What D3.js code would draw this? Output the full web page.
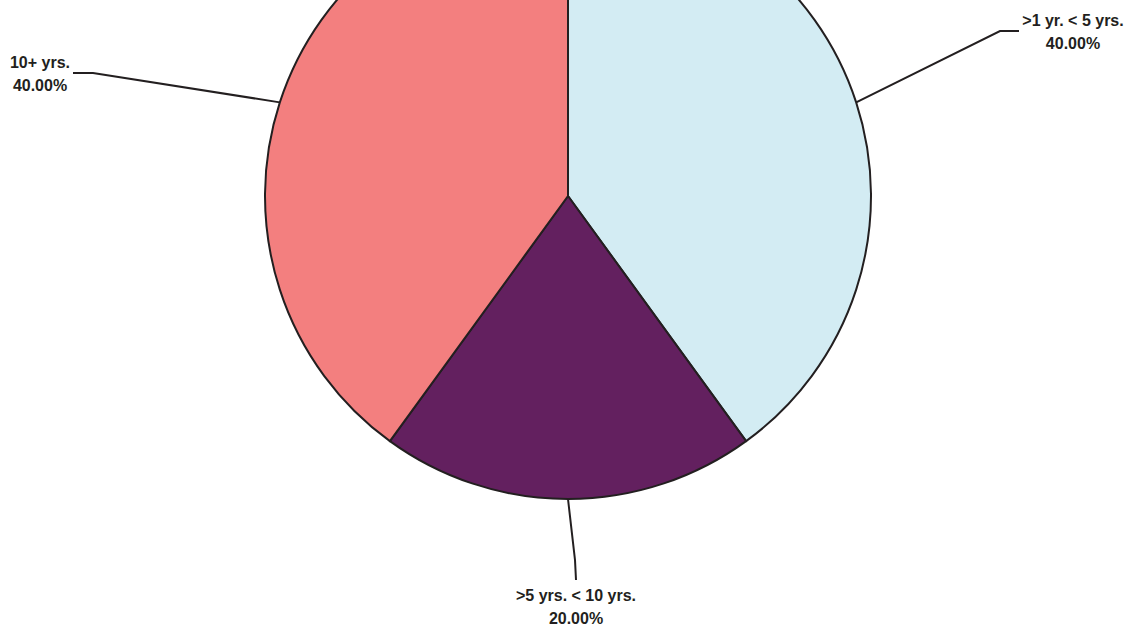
<!DOCTYPE html>
<html>
<head>
<meta charset="utf-8">
<script src="https://cdn.jsdelivr.net/npm/d3@7"></script>
<style>
  body { margin: 0; background: #fff; }
  .label { font-family: "Liberation Sans", Arial, sans-serif; font-weight: bold; font-size: 16px; fill: #231f20; }
</style>
</head>
<body>
<div id="chart"></div>
<script>
var categories = [">1 yr. < 5 yrs.", ">5 yrs. < 10 yrs.", "10+ yrs."];
var shares = [40, 20, 40];
var colors = ["#d3ecf3", "#63205f", "#f37f7f"];

var svgWidth = 1134;
var svgHeight = 626;
var cx = 568, cy = 196, radius = 303;

var svg = d3.select("#chart")
  .append("svg")
  .attr("width", svgWidth)
  .attr("height", svgHeight);

var data = categories.map(function(c, i) {
  return { name: c, value: shares[i], color: colors[i] };
});

var pie = d3.pie()
  .sort(null)
  .value(d => d.value);

var arc = d3.arc()
  .innerRadius(0)
  .outerRadius(radius);

var chartGroup = svg.append("g")
  .attr("transform", `translate(${cx}, ${cy})`);

var arcs = pie(data);

chartGroup.selectAll("path.slice")
  .data(arcs)
  .enter()
  .append("path")
  .attr("class", "slice")
  .attr("d", arc)
  .attr("fill", d => d.data.color)
  .attr("stroke", "#231f20")
  .attr("stroke-width", 2)
  .attr("stroke-linejoin", "round");

// leader line layout: elbow and end offsets relative to the center, text anchor
var leaders = [
  { elbow: [432, -165], end: [451, -165], text: [505, -170] },
  { elbow: [7, 364], end: [8, 384], text: [8, 405] },
  { elbow: [-475, -123], end: [-495, -123], text: [-528, -128] }
];

function edgePoint(d) {
  var a = (d.startAngle + d.endAngle) / 2;
  return [radius * Math.sin(a), -radius * Math.cos(a)];
}

var labels = chartGroup.selectAll("g.lbl")
  .data(arcs)
  .enter()
  .append("g")
  .attr("class", "lbl");

labels.append("polyline")
  .attr("points", (d, i) => [edgePoint(d), leaders[i].elbow, leaders[i].end].map(p => p.join(",")).join(" "))
  .attr("fill", "none")
  .attr("stroke", "#231f20")
  .attr("stroke-width", 2);

var fmt = d3.format(".2f");
var total = d3.sum(shares);

var txt = labels.append("text")
  .attr("class", "label")
  .attr("text-anchor", "middle")
  .attr("x", (d, i) => leaders[i].text[0])
  .attr("y", (d, i) => leaders[i].text[1]);

txt.append("tspan")
  .attr("x", (d, i) => leaders[i].text[0])
  .text(d => d.data.name);

txt.append("tspan")
  .attr("x", (d, i) => leaders[i].text[0])
  .attr("dy", 23)
  .text(d => fmt(d.data.value / total * 100) + "%");
</script>
</body>
</html>
